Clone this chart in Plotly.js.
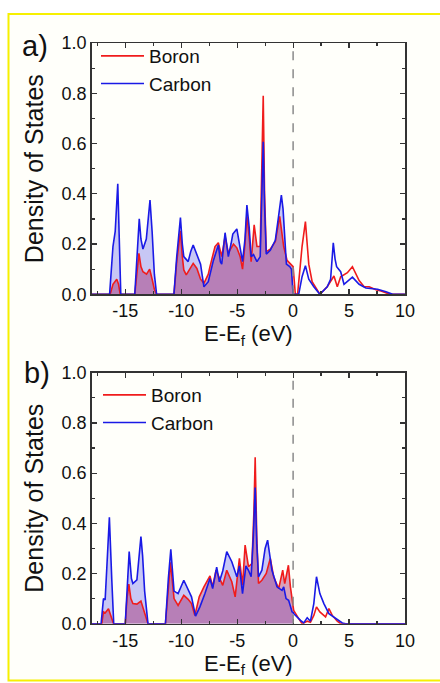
<!DOCTYPE html>
<html>
<head>
<meta charset="utf-8">
<script src="https://cdn.plot.ly/plotly-3.0.1.min.js"></script>
<style>
html,body{margin:0;padding:0;background:#ffffff;}
#chart{width:440px;height:683px;}
</style>
</head>
<body>
<div id="chart"></div>
<script>
// Panel a) Boron PDOS
var aBoronE = [-18,-16.35,-16.1,-15.76,-15.6,-15.45,-14.15,-14.0,-13.78,-13.6,-13.42,-13.1,-12.82,-12.6,-12.4,-12.2,
  -10.65,-10.4,-10.07,-9.9,-9.77,-9.55,-9.2,-8.93,-8.6,-8.27,-7.97,-7.58,-7.43,-6.98,-6.68,-6.38,-6.08,-5.79,-5.33,-5.03,
  -4.73,-4.52,-4.3,-4.13,-3.93,-3.75,-3.48,-3.23,-2.94,-2.8,-2.67,-2.55,-2.4,-2.04,-1.59,-1.2,-0.84,-0.54,-0.24,0,
  0.2,0.4,0.8,1.1,1.4,1.7,2.4,3.05,3.65,3.95,4.25,4.85,5.3,5.9,6.35,6.8,7.4,7.85,8.45,8.8,10];
var aBoronD = [0,0,0.04,0.06,0.04,0,0,0.08,0.163,0.11,0.09,0.08,0.10,0.06,0.02,0,
  0,0.13,0.253,0.15,0.097,0.077,0.10,0.123,0.103,0.06,0.044,0.08,0.11,0.19,0.205,0.15,0.23,0.165,0.20,0.185,
  0.15,0.10,0.20,0.315,0.23,0.13,0.276,0.19,0.19,0.45,0.79,0.40,0.17,0.18,0.21,0.31,0.19,0.135,0.12,0.11,
  0,0,0.19,0.289,0.12,0.05,0,0.03,0.073,0.03,0.07,0.086,0.11,0.055,0.03,0.03,0.018,0.013,0.003,0,0];

// Panel a) Carbon PDOS
var aCarbonE = [-18,-16.4,-16.1,-15.9,-15.67,-15.5,-15.4,-14.15,-14.0,-13.75,-13.6,-13.42,-13.12,-12.95,-12.79,-12.6,-12.4,-12.2,
  -10.65,-10.4,-10.07,-9.9,-9.77,-9.38,-9.15,-8.93,-8.63,-8.4,-8.27,-7.97,-7.58,-7.13,-6.85,-6.68,-6.5,-6.38,-6.08,-5.79,-5.55,-5.39,-5.03,
  -4.79,-4.52,-4.3,-4.13,-3.93,-3.75,-3.54,-3.23,-2.94,-2.8,-2.67,-2.55,-2.4,-2.04,-1.59,-1.3,-1.05,-0.9,-0.78,-0.6,-0.3,-0.15,0,
  0.5,0.8,1.1,1.4,1.85,2.39,3.05,3.35,3.59,3.75,3.89,4.25,4.55,5.3,5.9,6.5,7.55,8.3,8.9,10];
var aCarbonD = [0,0,0.19,0.25,0.44,0.15,0,0,0.12,0.30,0.22,0.18,0.22,0.30,0.375,0.25,0.08,0,
  0,0.15,0.305,0.20,0.15,0.13,0.17,0.196,0.16,0.14,0.12,0.03,0.05,0.134,0.175,0.196,0.13,0.12,0.245,0.15,0.20,0.24,0.26,
  0.19,0.13,0.22,0.355,0.27,0.15,0.158,0.13,0.15,0.35,0.607,0.35,0.16,0.175,0.215,0.31,0.395,0.34,0.24,0.12,0.11,0.10,0,
  0,0.07,0.114,0.06,0.03,0,0.03,0.06,0.205,0.14,0.11,0.09,0.04,0.068,0.04,0.025,0.02,0.01,0,0];

// Panel b) Boron PDOS
var bBoronE = [-18,-17.1,-16.95,-16.8,-16.5,-16.26,-16.05,-15.0,-14.85,-14.68,-14.5,-14.32,-13.96,-13.6,-13.27,-12.97,
  -11.41,-11.15,-10.96,-10.64,-10.28,-9.77,-9.38,-9.08,-8.78,-8.39,-7.97,-7.43,-7.19,-6.89,-6.59,-6.29,-5.93,-5.48,-5.18,
  -4.8,-4.52,-4.29,-3.99,-3.68,-3.5,-3.39,-3.25,-3.09,-2.79,-2.4,-2.04,-1.74,-1.29,-0.93,-0.75,-0.42,-0.24,-0.04,0,
  0.05,0.5,0.8,1.26,1.55,1.85,2.09,2.39,2.69,2.9,3.2,3.5,3.95,4.25,10];
var bBoronD = [0,0,0.047,0.043,0.06,0.027,0,0,0.10,0.158,0.10,0.08,0.078,0.09,0.04,0,
  0,0.15,0.245,0.10,0.073,0.113,0.097,0.08,0.033,0.107,0.147,0.19,0.147,0.213,0.18,0.153,0.213,0.167,0.107,
  0.26,0.153,0.313,0.227,0.24,0.45,0.663,0.35,0.16,0.173,0.20,0.26,0.187,0.14,0.213,0.16,0.233,0.147,0.087,0.08,
  0.053,0.02,0,0.01,0.006,0.033,0.067,0.047,0.037,0.027,0.06,0.033,0.01,0,0];

// Panel b) Carbon PDOS
var bCarbonE = [-18,-17.16,-16.95,-16.8,-16.66,-16.42,-16.2,-16.03,-15.0,-14.8,-14.65,-14.45,-14.32,-13.96,-13.75,-13.6,-13.45,-13.27,-12.97,
  -11.41,-11.15,-10.93,-10.64,-10.28,-9.77,-9.38,-9.08,-8.72,-8.33,-7.88,-7.43,-7.19,-6.83,-6.59,-6.29,-5.93,-5.48,-5.03,
  -4.8,-4.52,-4.22,-3.99,-3.75,-3.55,-3.39,-3.25,-3.09,-2.79,-2.5,-2.28,-1.89,-1.44,-0.99,-0.84,-0.63,-0.4,-0.09,0,
  0.05,0.66,0.95,1.26,1.55,1.85,2.09,2.39,2.75,3.2,3.8,4.4,4.7,10];
var bCarbonD = [0,0,0.10,0.095,0.214,0.424,0.17,0,0,0.20,0.287,0.18,0.16,0.175,0.28,0.347,0.27,0.13,0,
  0,0.18,0.296,0.13,0.12,0.173,0.133,0.107,0.03,0.067,0.12,0.18,0.14,0.225,0.167,0.21,0.287,0.247,0.187,
  0.23,0.12,0.23,0.213,0.187,0.35,0.543,0.32,0.187,0.213,0.30,0.333,0.213,0.147,0.133,0.147,0.10,0.093,0.047,0.045,
  0.04,0.013,0.003,0.024,0.01,0.08,0.187,0.12,0.08,0.04,0.02,0.003,0,0];

var seriesNames = ['Boron','Carbon'];
var xTickVals = [-15,-10,-5,0,5,10];
var xTickText = ['-15','-10','-5','0','5','10'];
var yTickVals = [0,0.2,0.4,0.6,0.8,1.0];
var yTickText = ['0.0','0.2','0.4','0.6','0.8','1.0'];
var fermiLevel = 0;

var RED = '#f01c1c', BLUE = '#1a1ae6';
var RED_FILL = 'rgba(160,20,90,0.40)', BLUE_FILL = 'rgba(40,40,230,0.26)';

function occupied(E, D) {
  var xs = [], ys = [];
  for (var i = 0; i < E.length; i++) { if (E[i] <= fermiLevel) { xs.push(E[i]); ys.push(D[i]); } }
  return {x: xs, y: ys};
}

function panelTraces(bE, bD, cE, cD, xa, ya, legendId) {
  var cf = occupied(cE, cD), bf = occupied(bE, bD);
  return [
    {x: cf.x, y: cf.y, xaxis: xa, yaxis: ya, type: 'scatter', mode: 'lines', fill: 'tozeroy',
     fillcolor: BLUE_FILL, line: {width: 0, color: BLUE}, showlegend: false, hoverinfo: 'skip'},
    {x: bf.x, y: bf.y, xaxis: xa, yaxis: ya, type: 'scatter', mode: 'lines', fill: 'tozeroy',
     fillcolor: RED_FILL, line: {width: 0, color: RED}, showlegend: false, hoverinfo: 'skip'},
    {x: bE, y: bD, xaxis: xa, yaxis: ya, type: 'scatter', mode: 'lines', name: seriesNames[0],
     line: {color: RED, width: 1.6}, legend: legendId},
    {x: cE, y: cD, xaxis: xa, yaxis: ya, type: 'scatter', mode: 'lines', name: seriesNames[1],
     line: {color: BLUE, width: 1.6}, legend: legendId}
  ];
}

var data = [].concat(
  panelTraces(aBoronE, aBoronD, aCarbonE, aCarbonD, 'x', 'y', 'legend'),
  panelTraces(bBoronE, bBoronD, bCarbonE, bCarbonD, 'x2', 'y2', 'legend2')
);

var FONT = 'Liberation Sans, Arial, sans-serif';
var AX = '#333333';
function xAxis(domain, anchor) {
  return {domain: domain, anchor: anchor, range: [-18, 10], tickmode: 'array', tickvals: xTickVals, ticktext: xTickText,
    ticks: 'inside', ticklen: 5, tickwidth: 1.2, tickcolor: AX, showline: true, linecolor: AX, linewidth: 1.5,
    mirror: 'allticks', showgrid: false, zeroline: false,
    minor: {tickmode: 'linear', tick0: 0, dtick: 2.5, ticks: 'inside', ticklen: 3, tickwidth: 1.2, tickcolor: AX, showgrid: false},
    tickfont: {family: FONT, size: 18, color: '#111'},
    title: {text: 'E-E<sub>f</sub> (eV)', font: {family: FONT, size: 22, color: '#111'}, standoff: 0},
    fixedrange: true};
}
function yAxis(domain, anchor) {
  return {domain: domain, anchor: anchor, range: [0, 1], tickmode: 'array', tickvals: yTickVals, ticktext: yTickText,
    ticks: 'inside', ticklen: 5, tickwidth: 1.2, tickcolor: AX, showline: true, linecolor: AX, linewidth: 1.5,
    mirror: 'allticks', showgrid: false, zeroline: false,
    minor: {tickmode: 'linear', tick0: 0, dtick: 0.1, ticks: 'inside', ticklen: 3, tickwidth: 1.2, tickcolor: AX, showgrid: false},
    tickfont: {family: FONT, size: 18, color: '#111'},
    title: {text: 'Density of States', font: {family: FONT, size: 25, color: '#111'}, standoff: 11},
    fixedrange: true};
}

var W = 440, H = 683;
function px(x) { return x / W; }
function py(y) { return (H - y) / H; }

var layout = {
  width: W, height: H,
  margin: {l: 0, r: 0, t: 0, b: 0},
  paper_bgcolor: '#ffffff', plot_bgcolor: 'rgba(0,0,0,0)',
  font: {family: FONT, color: '#111'},
  xaxis: xAxis([px(91.7), px(405)], 'y'),
  yaxis: yAxis([py(294.3), py(43)], 'x'),
  xaxis2: xAxis([px(91.7), px(405)], 'y2'),
  yaxis2: yAxis([py(623.7), py(372.7)], 'x2'),
  legend: {x: px(96), y: py(37), xanchor: 'left', yanchor: 'top', bgcolor: 'rgba(0,0,0,0)',
    font: {family: FONT, size: 19, color: '#111'}, itemwidth: 43, tracegroupgap: 0},
  legend2: {x: px(98), y: py(376), xanchor: 'left', yanchor: 'top', bgcolor: 'rgba(0,0,0,0)',
    font: {family: FONT, size: 19, color: '#111'}, itemwidth: 43, tracegroupgap: 0},
  shapes: [
    {type: 'rect', xref: 'paper', yref: 'paper', x0: px(8.5), x1: 1.05, y0: py(680.5), y1: py(14),
     line: {color: '#f6f000', width: 2}, fillcolor: '#fffffa', layer: 'below'},
    {type: 'line', xref: 'x', yref: 'y', x0: fermiLevel, x1: fermiLevel, y0: 0, y1: 1,
     line: {color: '#8a8a8a', width: 1.5, dash: 'dash'}},
    {type: 'line', xref: 'x2', yref: 'y2', x0: fermiLevel, x1: fermiLevel, y0: 0, y1: 1,
     line: {color: '#8a8a8a', width: 1.5, dash: 'dash'}}
  ],
  annotations: [
    {text: 'a)', xref: 'paper', yref: 'paper', x: px(35), y: py(46), xanchor: 'center', yanchor: 'middle',
     showarrow: false, font: {family: FONT, size: 29, color: '#111'}},
    {text: 'b)', xref: 'paper', yref: 'paper', x: px(37), y: py(373), xanchor: 'center', yanchor: 'middle',
     showarrow: false, font: {family: FONT, size: 29, color: '#111'}}
  ]
};

Plotly.newPlot('chart', data, layout, {displayModeBar: false, staticPlot: true});
</script>
</body>
</html>
